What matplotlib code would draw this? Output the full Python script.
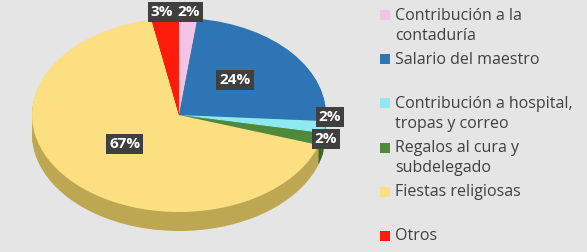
import numpy as np
import matplotlib.pyplot as plt
import matplotlib.colors as mcolors

# shares per category, clockwise from 12 o'clock
categories = ["Contribución a la\ncontaduría", "Salario del maestro",
              "Contribución a hospital,\ntropas y correo", "Regalos al cura y\nsubdelegado",
              "Fiestas religiosas", "Otros"]
values = [2, 24, 2, 2, 67, 3]
labels = ["2%", "24%", "2%", "2%", "67%", "3%"]
colors = ["#f3c4e6", "#2e75b6", "#8fe9f2", "#4f8a3c", "#fcdf80", "#fb1c0c"]
# label placement: radius and angle shift from wedge middle
label_r = [1.065, 0.525, 1.027, 1.03, 0.477, 1.068]
label_shift = [0, 4, 6, 0.5, -2, 0.8]

W, H = 587, 252
cx, cy = 179, 115      # pie centre, pixels
rx, ry = 147, 97       # ellipse semi-axes, pixels
depth = 19

fig = plt.figure(figsize=(W / 100, H / 100), dpi=100)
fig.patch.set_facecolor("#e5e5e5")
ax = fig.add_axes([0, 0, 1, 1])
ax.set_facecolor("none")


def darker(c, f=0.75):
    r, g, b = mcolors.to_rgb(c)
    return (r * f, g * f, b * f * 0.85)


side = [darker(c) for c in colors]
for k in np.linspace(depth, 1, 16):
    ax.pie(values, colors=side, startangle=90, counterclock=False,
           center=(0, -k / ry), radius=1, wedgeprops=dict(linewidth=0))

wedges, _ = ax.pie(values, colors=colors, startangle=90, counterclock=False,
                   center=(0, 0), radius=1, wedgeprops=dict(linewidth=0))

ax.set_aspect("auto")
ax.set_xlim((0 - cx) / rx, (W - cx) / rx)
ax.set_ylim((cy - H) / ry, cy / ry)
ax.axis("off")

for w, lab, r, sh in zip(wedges, labels, label_r, label_shift):
    ang = np.deg2rad((w.theta1 + w.theta2) / 2 + sh)
    ax.text(r * np.cos(ang), r * np.sin(ang), lab, ha="center", va="center",
            fontsize=11, fontweight="bold", color="white", family="Open Sans",
            bbox=dict(boxstyle="square,pad=0.2", fc="#3f3f3f", ec="none"))

# legend drawn by hand to keep the original spacing
for i, (name, col) in enumerate(zip(categories, colors)):
    y = 15 + 44.2 * i
    fig.patches.append(plt.Rectangle((380 / W, 1 - (y + 5) / H), 10 / W, 10 / H,
                                     transform=fig.transFigure, fc=col, ec="none"))
    fig.text(395 / W, 1 - (y - 7.5) / H, name, ha="left", va="top",
             fontsize=11.5, color="#404040", family="Open Sans", linespacing=1.36)

fig.savefig("out.png", dpi=100, facecolor=fig.get_facecolor())
